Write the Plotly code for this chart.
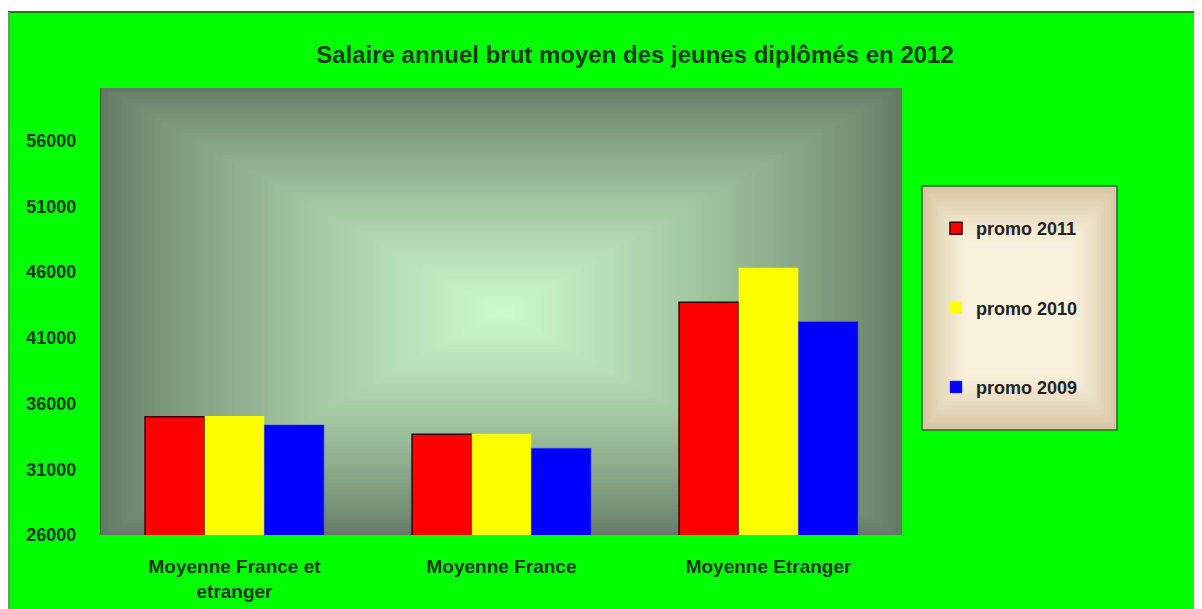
import plotly.graph_objects as go

categories = ["Moyenne France et<br>etranger", "Moyenne France", "Moyenne Etranger"]
series_names = ["promo 2011", "promo 2010", "promo 2009"]
promo_2011 = [35000, 33660, 43700]
promo_2010 = [35050, 33700, 46330]
promo_2009 = [34370, 32590, 42220]
y_ticks = [26000, 31000, 36000, 41000, 46000, 51000, 56000]
title_text = "Salaire annuel brut moyen des jeunes diplômés en 2012"

W, H = 1202, 609
OFF = 8  # page body margin in the screenshot
L, R, T, B = 101, 902, 88, 535  # plot area in screen px


def px_x(x):
    return (x - L) / (R - L)


def px_y(y):
    return (B - y) / (B - T)


def lerp(c1, c2, t):
    return "rgb(%d,%d,%d)" % tuple(round(a + (b - a) * t) for a, b in zip(c1, c2))


fig = go.Figure()
colors = ["#ff0000", "#ffff00", "#0000ff"]
lines = [dict(color="#3a0000", width=1.5), dict(width=0), dict(color="#3a3aff", width=0.5)]
for name, vals, col, ln in zip(series_names, [promo_2011, promo_2010, promo_2009], colors, lines):
    fig.add_trace(go.Bar(x=categories, y=vals, name=name, marker=dict(color=col, line=ln),
                         legendgroup=name))

shapes = []
# white strip at top and frame lines
shapes.append(dict(type="rect", xref="paper", yref="paper",
                   x0=px_x(0), x1=px_x(1215), y0=px_y(11), y1=px_y(0),
                   line=dict(width=0), fillcolor="#ffffff", layer="below"))
shapes.append(dict(type="line", xref="paper", yref="paper",
                   x0=px_x(8), x1=px_x(1215), y0=px_y(12), y1=px_y(12),
                   line=dict(color="#1f7a1f", width=2), layer="below"))
shapes.append(dict(type="line", xref="paper", yref="paper",
                   x0=px_x(9), x1=px_x(9), y0=px_y(12), y1=px_y(620),
                   line=dict(color="#6a9a6a", width=2), layer="below"))

# plot area rectangular gradient
edge = (100, 122, 100)
center = (205, 252, 205)
N = 60
for i in range(N):
    t = i / N
    f = (1 - t) / 2
    c = lerp(edge, center, t ** 0.8)
    shapes.append(dict(type="rect", xref="paper", yref="paper",
                       x0=0.5 - f, x1=0.5 + f, y0=0.5 - f, y1=0.5 + f,
                       line=dict(width=0), fillcolor=c, layer="below"))

# legend box gradient
lx0, lx1, ly0, ly1 = 922, 1117, 186, 430
ledge = (214, 196, 162)
lcenter = (250, 242, 220)
M = 30
cxm, cym = (lx0 + lx1) / 2, (ly0 + ly1) / 2
hw, hh = (lx1 - lx0) / 2, (ly1 - ly0) / 2
for i in range(M):
    t = i / M
    f = 1 - t
    c = lerp(ledge, lcenter, min(1, t * 2.2) ** 0.8)
    shapes.append(dict(type="rect", xref="paper", yref="paper",
                       x0=px_x(cxm - hw * f), x1=px_x(cxm + hw * f),
                       y0=px_y(cym + hh * f), y1=px_y(cym - hh * f),
                       line=dict(width=0), fillcolor=c, layer="below"))
shapes.append(dict(type="rect", xref="paper", yref="paper",
                   x0=px_x(lx0), x1=px_x(lx1), y0=px_y(ly1), y1=px_y(ly0),
                   line=dict(color="#1f6e1f", width=1.5), fillcolor="rgba(0,0,0,0)", layer="below"))

fig.update_layout(
    width=W, height=H,
    margin=dict(l=L - OFF, r=W - (R - OFF), t=T - OFF, b=H - (B - OFF), pad=0),
    paper_bgcolor="#00ff00",
    plot_bgcolor="rgba(0,0,0,0)",
    barmode="group", bargap=0.33, bargroupgap=0,
    font=dict(family="Arial, Liberation Sans, sans-serif"),
    title=dict(text="<b>" + title_text + "</b>", x=(635 - OFF) / W, xanchor="center",
               y=1 - (55 - OFF) / H, yanchor="middle",
               font=dict(size=24, color="#064006", family="Arial, Liberation Sans, sans-serif")),
    shapes=shapes,
    showlegend=True,
    legend=dict(x=px_x(936), y=px_y(210), xanchor="left", yanchor="top",
                bgcolor="rgba(0,0,0,0)", borderwidth=0, tracegroupgap=53,
                traceorder="grouped",
                font=dict(size=18, color="#222222", family="Arial, Liberation Sans, sans-serif",
                          weight="bold")),
    xaxis=dict(showgrid=False, showline=False, zeroline=False, ticks="",
               ticklabelstandoff=18,
               tickfont=dict(size=19, color="#0a3a0a", weight="bold")),
    yaxis=dict(range=[26000, 60000], tickvals=y_ticks, ticktext=[str(v) for v in y_ticks],
               showgrid=False, zeroline=False, showline=True, linecolor="#2a6a2a", linewidth=1,
               ticks="", ticklabelstandoff=20,
               tickfont=dict(size=18, color="#0a3a0a", weight="bold")),
)

fig.write_html("out.html")
